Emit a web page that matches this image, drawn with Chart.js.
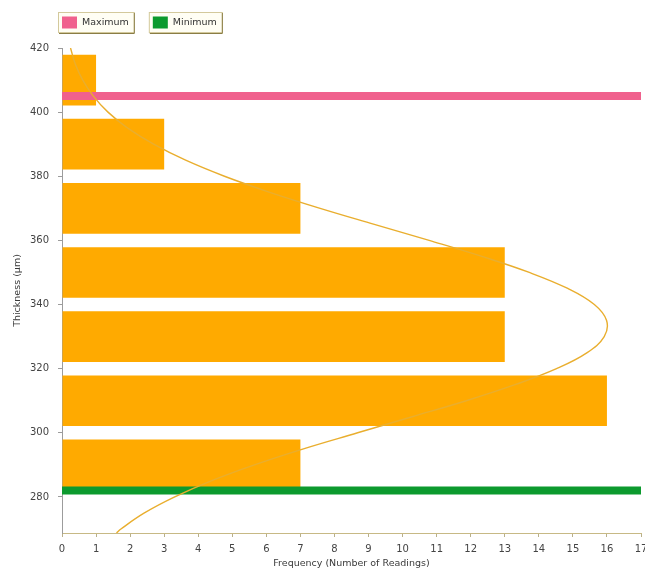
<!DOCTYPE html>
<html>
<head>
<meta charset="utf-8">
<script src="https://cdn.jsdelivr.net/npm/chart.js@4/dist/chart.umd.min.js"></script>
<style>
  html, body { margin: 0; padding: 0; background: #fff; }
  #wrap { width: 645px; height: 572px; }
</style>
</head>
<body>
<div id="wrap"><canvas id="thicknessChart"></canvas></div>
<script>
// histogram bins (thickness, µm) and how many readings fell in each
const binCentres = [410, 390, 370, 350, 330, 310, 290]
const readings = [1, 3, 7, 13, 13, 16, 7]

// spec limits
const maxLimit = 405
const minLimit = 282

// fitted distribution curve, every 5 µm
const curveThick = [420, 415, 410, 405, 400, 395, 390, 385, 380, 375, 370, 365, 360, 355, 350, 345, 340, 335, 330, 325, 320, 315, 310, 305, 300, 295, 290, 285, 280, 275, 270, 268.75]
const curveFreq = [0.25, 0.39, 0.61, 0.92, 1.35, 1.93, 2.69, 3.63, 4.77, 6.1, 7.58, 9.17, 10.78, 12.33, 13.72, 14.85, 15.63, 15.99, 15.92, 15.42, 14.52, 13.3, 11.87, 10.28, 8.68, 7.09, 5.65, 4.38, 3.31, 2.42, 1.73, 1.6]

const yTicks = [280, 300, 320, 340, 360, 380, 400, 420]
const xTicks = [0, 1, 2, 3, 4, 5, 6, 7, 8, 9, 10, 11, 12, 13, 14, 15, 16, 17]

const FONT = 'DejaVu Sans'
const barColour = '#FFAA00'
const maxColour = '#F0618D'
const minColour = '#0C9A2E'

const buttonLegend = {
    id: 'buttonLegend',
    afterDraw(chart) {
        const ctx = chart.ctx
        ctx.save()
        ctx.font = '9.5px "' + FONT + '"'
        ctx.textBaseline = 'middle'
        let x = 58
        chart.data.datasets.filter(d => d.inLegend).forEach(d => {
            const w = 4 + 15 + 5 + ctx.measureText(d.label).width + 6
            ctx.fillStyle = '#fffef4'
            ctx.fillRect(x, 12, w, 21)
            ctx.lineWidth = 1
            ctx.strokeStyle = '#d3c99c'
            ctx.strokeRect(x + 0.5, 12.5, w - 1, 20)
            ctx.strokeStyle = '#8a7d45'
            ctx.beginPath()
            ctx.moveTo(x + w - 0.5, 13)
            ctx.lineTo(x + w - 0.5, 33.5)
            ctx.lineTo(x + 1, 33.5)
            ctx.stroke()
            ctx.fillStyle = d.borderColor
            ctx.fillRect(x + 4, 16.5, 15, 12)
            ctx.fillStyle = '#333'
            ctx.fillText(d.label, x + 24, 23)
            x += w + 14
        })
        ctx.restore()
    }
}

const limitLine = (value, label, colour) => ({
    type: 'line',
    label: label,
    inLegend: true,
    data: [{x: xTicks[0], y: value}, {x: xTicks[xTicks.length - 1], y: value}],
    borderColor: colour,
    backgroundColor: colour,
    borderWidth: 8,
    borderCapStyle: 'butt',
    pointRadius: 0,
    order: 2
})

const data = {
    datasets: [
        {
            type: 'bar',
            label: 'Readings',
            data: binCentres.map((c, i) => ({x: readings[i], y: c})),
            backgroundColor: barColour,
            borderWidth: 0,
            barPercentage: 0.79,
            categoryPercentage: 1,
            order: 3
        },
        limitLine(maxLimit, 'Maximum', maxColour),
        limitLine(minLimit, 'Minimum', minColour),
        {
            type: 'line',
            label: 'Distribution',
            data: curveFreq.map((f, i) => ({x: f, y: curveThick[i]})),
            borderColor: '#E9AE2E',
            borderWidth: 1.4,
            tension: 0.4,
            pointRadius: 0,
            fill: false,
            order: 1
        }
    ]
}

const tickFont = {family: FONT, size: 10}
const titleFont = {family: FONT, size: 9.5}

const options = {
    indexAxis: 'y',
    responsive: true,
    maintainAspectRatio: false,
    animation: false,
    layout: {padding: {top: 48, right: 4, left: 0, bottom: 0}},
    plugins: {
        legend: {display: false},
        tooltip: {enabled: false}
    },
    scales: {
        x: {
            type: 'linear',
            min: 0,
            max: 17,
            afterBuildTicks: s => { s.ticks = xTicks.map(v => ({value: v})) },
            afterFit: s => { s.height = 39; s.paddingRight = 0; s.paddingLeft = 0 },
            ticks: {color: '#444', font: tickFont, padding: 6, maxRotation: 0, autoSkip: false},
            grid: {drawOnChartArea: false, drawTicks: true, tickLength: 4, color: '#b9b08a'},
            border: {display: true, color: '#c7b985'},
            title: {display: true, text: 'Frequency (Number of Readings)', color: '#3a3a3a', font: titleFont, padding: {top: 0, bottom: 3}}
        },
        y: {
            type: 'linear',
            min: 268.75,
            max: 420,
            offset: false,
            afterBuildTicks: s => { s.ticks = yTicks.map(v => ({value: v})) },
            afterFit: s => { s.width = 62; s.paddingTop = 0; s.paddingBottom = 0 },
            ticks: {color: '#444', font: tickFont, padding: 9},
            grid: {offset: false, drawOnChartArea: false, drawTicks: true, tickLength: 4, color: '#9c9c9c'},
            border: {display: true, color: '#9c9c9c'},
            title: {display: true, text: 'Thickness (µm)', color: '#3a3a3a', font: titleFont, padding: {top: 12, bottom: 0}}
        }
    }
}

new Chart('thicknessChart', {type: 'bar', data, options, plugins: [buttonLegend]})
</script>
</body>
</html>
